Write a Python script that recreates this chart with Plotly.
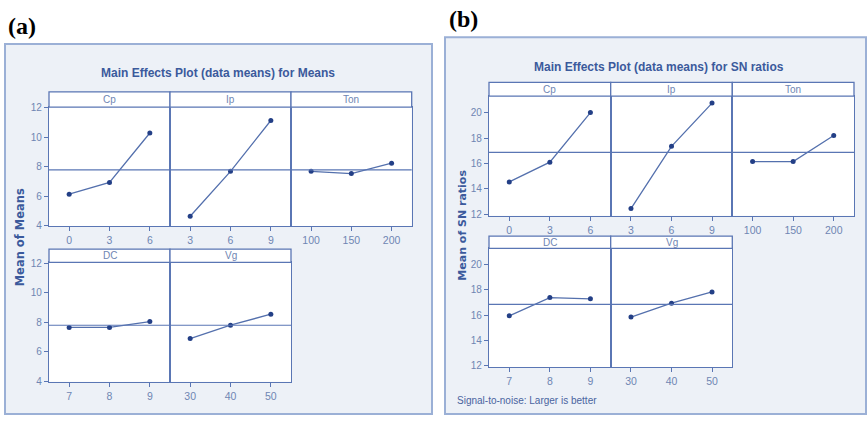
import plotly.graph_objects as go

W, H = 868, 421

# factor levels
cp_levels = [0, 3, 6]
ip_levels = [3, 6, 9]
ton_levels = [100, 150, 200]
dc_levels = [7, 8, 9]
vg_levels = [30, 40, 50]

# (a) mean of means at each level
means_cp = [6.15, 6.95, 10.3]
means_ip = [4.65, 7.7, 11.15]
means_ton = [7.7, 7.55, 8.25]
means_dc = [7.65, 7.65, 8.05]
means_vg = [6.9, 7.8, 8.55]

# (b) mean of SN ratios at each level
sn_cp = [14.55, 16.1, 20.0]
sn_ip = [12.45, 17.35, 20.75]
sn_ton = [16.15, 16.15, 18.2]
sn_dc = [15.95, 17.4, 17.3]
sn_vg = [15.85, 16.95, 17.85]

factor_names = ["Cp", "Ip", "Ton", "DC", "Vg"]
means_yticks = [4, 6, 8, 10, 12]
sn_yticks = [12, 14, 16, 18, 20]

SANS = "Liberation Sans Narrow, Liberation Sans, Arial, sans-serif"
FRAME = "#5a76b4"
TICKC = "#6f86b3"
LINEC = "#5470ad"
MARKC = "#233f86"
TITLEC = "#3b5a9c"


def px(x):
    return x / W


def py(y):
    return 1 - y / H


def aid(i):
    return "" if i == 1 else str(i)


fig = go.Figure()
shapes = []
annotations = []

# outer panel boxes
for x0, y0, x1, y1 in [(5, 40, 432, 419), (445, 33, 866, 419)]:
    shapes.append(dict(type="rect", xref="paper", yref="paper",
                       x0=px(x0), x1=px(x1), y0=py(y1), y1=py(y0),
                       fillcolor="#edf1f7", line=dict(color="#9bb0d6", width=2),
                       layer="below"))


def build(levels_list, values_list, cols_top, cols_bot, top_rows, bot_rows,
          yrange, yticks, start):
    grand = sum(sum(v) for v in values_list) / sum(len(v) for v in values_list)
    idx = start
    for k, (levels, vals, name) in enumerate(zip(levels_list, values_list, factor_names)):
        if k < 3:
            xl, xr = cols_top[k]
            (st, pt, pb) = top_rows
        else:
            xl, xr = cols_bot[k - 3]
            (st, pt, pb) = bot_rows
        left = k in (0, 3)
        a = aid(idx)
        # white plotting area
        shapes.append(dict(type="rect", xref="paper", yref="paper",
                           x0=px(xl), x1=px(xr), y0=py(pb), y1=py(pt),
                           fillcolor="white", line=dict(width=0), layer="below"))
        # strip header
        shapes.append(dict(type="rect", xref="paper", yref="paper",
                           x0=px(xl), x1=px(xr), y0=py(pt), y1=py(st),
                           fillcolor="white", line=dict(color=FRAME, width=1.3)))
        annotations.append(dict(text=name, xref="paper", yref="paper",
                                x=px((xl + xr) / 2), y=py((st + pt) / 2),
                                showarrow=False, xanchor="center", yanchor="middle",
                                font=dict(family=SANS, size=10, color=TICKC)))
        step = levels[1] - levels[0]
        fig.add_trace(go.Scatter(
            x=levels, y=vals, xaxis="x" + a, yaxis="y" + a,
            mode="lines+markers", showlegend=False, cliponaxis=False,
            line=dict(color=LINEC, width=1.3),
            marker=dict(color=MARKC, size=5)))
        fig.layout["xaxis" + a] = dict(
            domain=[px(xl), px(xr)], anchor="y" + a,
            range=[levels[0] - step / 2, levels[-1] + step / 2],
            tickvals=levels, ticktext=[str(v) for v in levels],
            ticks="outside", ticklen=4, tickcolor=FRAME, tickwidth=1,
            showline=True, mirror=True, linecolor=FRAME, linewidth=1.3,
            showgrid=False, zeroline=False,
            tickfont=dict(family=SANS, size=10.5, color=TICKC))
        fig.layout["yaxis" + a] = dict(
            domain=[py(pb), py(pt)], anchor="x" + a,
            range=yrange, tickvals=yticks,
            ticks="outside" if left else "", ticklen=4, tickcolor=FRAME, tickwidth=1,
            showticklabels=left,
            showline=True, mirror=True, linecolor=FRAME, linewidth=1.3,
            showgrid=False, zeroline=False,
            tickfont=dict(family=SANS, size=10, color=TICKC))
        # reference line at the grand mean
        shapes.append(dict(type="line", xref="x" + a + " domain", yref="y" + a,
                           x0=0, x1=1, y0=grand, y1=grand,
                           line=dict(color=FRAME, width=1.2)))
        idx += 1
    return idx


nxt = build([cp_levels, ip_levels, ton_levels, dc_levels, vg_levels],
            [means_cp, means_ip, means_ton, means_dc, means_vg],
            [(49, 170), (170, 291), (291, 411.7)], [(49, 170), (170, 291)],
            (89, 104.7, 226.7), (250, 263.7, 386),
            [3.97, 12.05], means_yticks, 1)

build([cp_levels, ip_levels, ton_levels, dc_levels, vg_levels],
      [sn_cp, sn_ip, sn_ton, sn_dc, sn_vg],
      [(489, 610.7), (610.7, 732.3), (732.3, 854)], [(489, 610.7), (610.7, 732.3)],
      (79.3, 93.3, 216), (236.7, 249.3, 371),
      [11.88, 21.3], sn_yticks, nxt)

# titles, axis titles and panel labels
annotations += [
    dict(text="<b>Main Effects Plot (data means) for Means</b>", x=px(218), y=py(70),
         font=dict(family=SANS, size=12, color=TITLEC)),
    dict(text="<b>Main Effects Plot (data means) for SN ratios</b>", x=px(659), y=py(63),
         font=dict(family=SANS, size=12, color=TITLEC)),
    dict(text="<b>Mean of Means</b>", x=px(20), y=py(238), textangle=-90,
         font=dict(family="DejaVu Sans, sans-serif", size=11.5, color=TITLEC)),
    dict(text="<b>Mean of SN ratios</b>", x=px(463), y=py(226), textangle=-90,
         font=dict(family="DejaVu Sans, sans-serif", size=11, color=TITLEC)),
    dict(text="Signal-to-noise: Larger is better", x=px(455), y=py(405), xanchor="left",
         font=dict(family=SANS, size=10, color="#4a64a0")),
    dict(text="<b>(a)</b>", x=px(6), y=py(22), xanchor="left",
         font=dict(family="Liberation Serif, Times New Roman, serif", size=24, color="black")),
    dict(text="<b>(b)</b>", x=px(447), y=py(14), xanchor="left",
         font=dict(family="Liberation Serif, Times New Roman, serif", size=24, color="black")),
]
for an in annotations[-7:]:
    an.setdefault("xref", "paper")
    an.setdefault("yref", "paper")
    an.setdefault("showarrow", False)
    an.setdefault("xanchor", "center")
    an.setdefault("yanchor", "middle")

fig.update_layout(
    width=W, height=H,
    margin=dict(l=0, r=0, t=0, b=0),
    paper_bgcolor="white", plot_bgcolor="rgba(0,0,0,0)",
    shapes=shapes, annotations=annotations,
)

fig.write_html("out.html")
